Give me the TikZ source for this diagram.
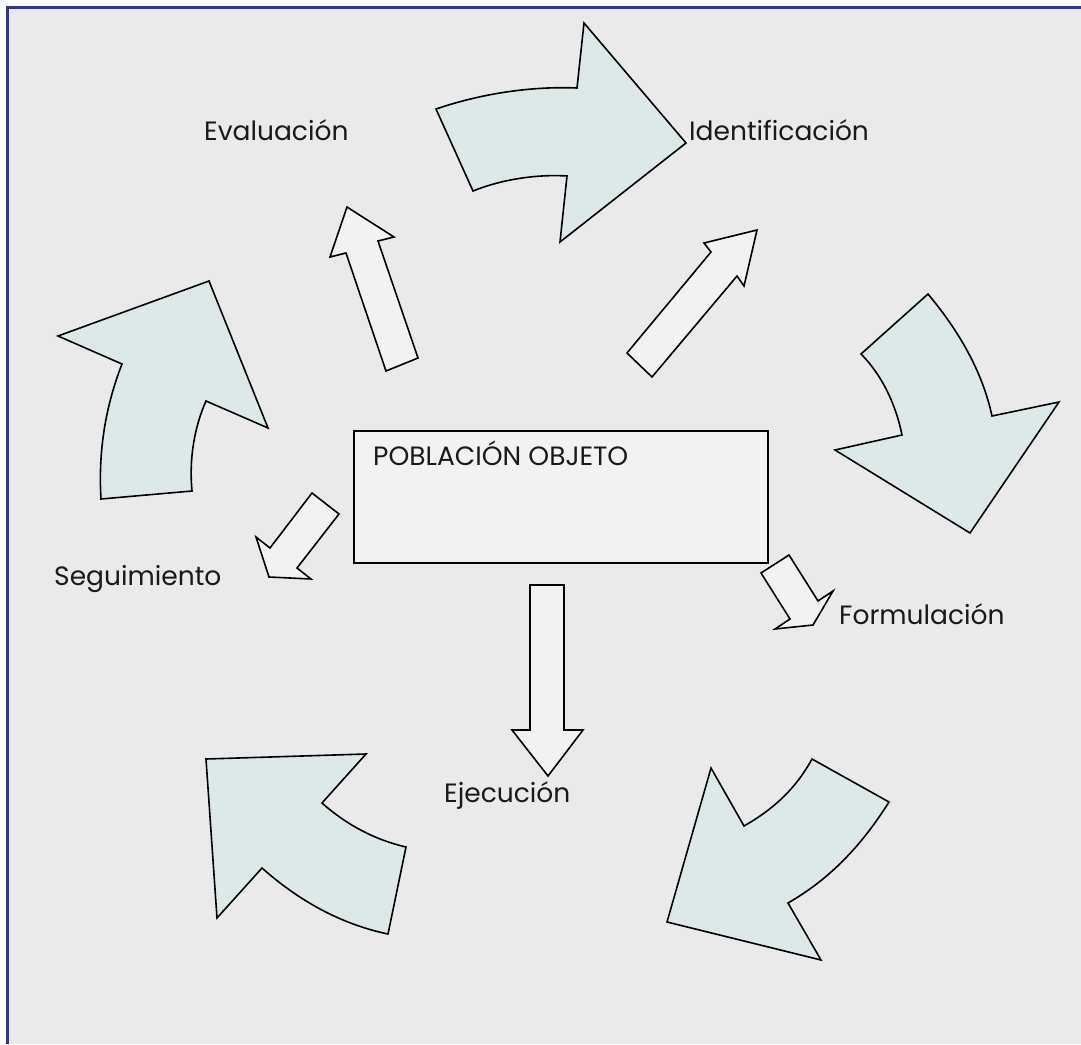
\documentclass[tikz,border=0pt]{standalone}
\usepackage{fontspec}
\setmainfont{Poppins}
\usetikzlibrary{positioning}

\definecolor{marco}{HTML}{333399}
\definecolor{fondo}{HTML}{EAEAEA}
\definecolor{curva}{HTML}{DDE8E8}
\definecolor{recta}{HTML}{F2F2F2}

\tikzset{
  curvada/.style={draw=black, fill=curva, line width=1.6pt},
  flecha/.style={draw=black, fill=recta, line width=1.6pt},
  etiqueta/.style={font=\fontsize{26.5}{30}\selectfont, text=black!90, inner sep=0pt},
}

\begin{document}
\begin{tikzpicture}[x=1pt,y=-1pt]

    \useasboundingbox (0,0) rectangle (1081,1044);
    \fill[fondo] (8,8) rectangle (1081,1044);
    \draw[marco, line width=3pt] (7,1044) -- (7,7) -- (1081,7);

    % flechas curvas del ciclo
    \draw[curvada] (436,109) .. controls (480,94) and (530,86) .. (577,88) -- (584,23) -- (686,143) -- (560,242) -- (567,176) .. controls (535,174) and (500,180) .. (473,191) -- cycle;
    \draw[curvada] (928,294) .. controls (958,330) and (982,370) .. (992,416) -- (1059,402) -- (970,533) -- (835,450) -- (902,435) .. controls (896,405) and (882,375) .. (861,354) -- cycle;
    \draw[curvada] (812,759) -- (889,802) .. controls (860,848) and (828,880) .. (788,903) -- (821,960) -- (667,922) -- (711,768) -- (744,826) .. controls (772,810) and (795,790) .. (812,759) -- cycle;
    \draw[curvada] (206,759) -- (366,754) -- (322,803) .. controls (348,826) and (376,840) .. (406,847) -- (388,934) .. controls (340,924) and (298,900) .. (262,868) -- (217,918) -- cycle;
    \draw[curvada] (58,336) -- (209,281) -- (268,428) -- (206,401) .. controls (194,428) and (189,460) .. (192,491) -- (101,499) .. controls (98,450) and (106,405) .. (122,364) -- cycle;

    % flechas rectas desde la poblacion
    \draw[flecha] (386,371) -- (346,253) -- (330,257) -- (347,207) -- (394,237) -- (378,241) -- (418,358) -- cycle;
    \draw[flecha] (627,353) -- (711,252) -- (704,243) -- (757,230) -- (744,286) -- (737,276) -- (652,377) -- cycle;
    \draw[flecha] (530,585) -- (564,585) -- (564,730) -- (583,730) -- (548,776) -- (512,730) -- (530,730) -- cycle;
    \draw[flecha] (312,493) -- (339,514) -- (297,568) -- (311,579) -- (269,577) -- (256,537) -- (270,548) -- cycle;
    \draw[flecha] (789,555) -- (818,601) -- (833,591) -- (813,625) -- (775,629) -- (790,619) -- (761,573) -- cycle;

    \node[draw=black, fill=recta, line width=1.6pt, minimum width=414pt, minimum height=132pt, anchor=north west, inner sep=0pt] (poblacion) at (353,430) {};
    \node[etiqueta, anchor=base west] (titulo) at (373,465) {POBLACIÓN OBJETO};

    \node[etiqueta, anchor=base west] (evaluacion) at (204,140) {Evaluación};
    \node[etiqueta, anchor=base west] (identificacion) at (689,140) {Identificación};
    \node[etiqueta, anchor=base west] (seguimiento) at (54,585) {Seguimiento};
    \node[etiqueta, anchor=base west] (formulacion) at (839,624) {Formulación};
    \node[etiqueta, anchor=base west] (ejecucion) at (444,802) {Ejecución};

\end{tikzpicture}
\end{document}
